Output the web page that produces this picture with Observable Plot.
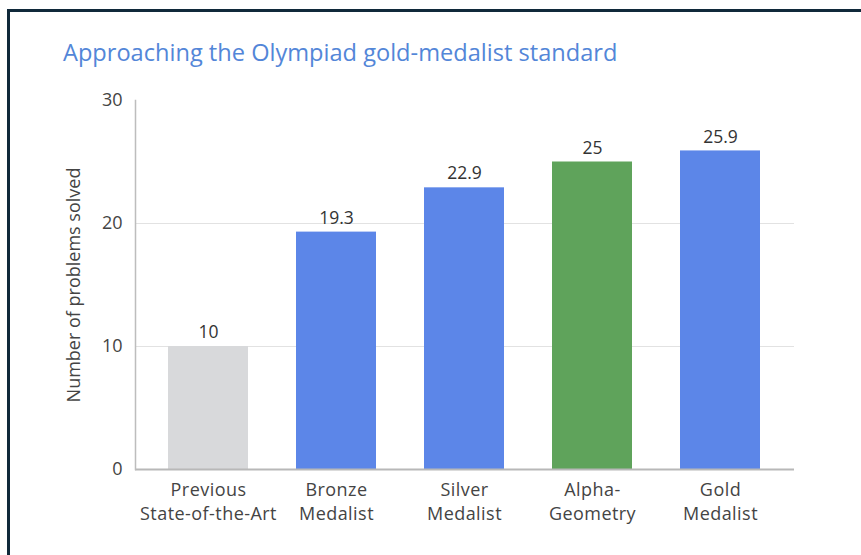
<!DOCTYPE html>
<html>
<head>
<meta charset="utf-8">
<script src="https://cdn.jsdelivr.net/npm/d3@7"></script>
<script src="https://cdn.jsdelivr.net/npm/@observablehq/plot@0.6"></script>
<style>
  html, body { margin: 0; padding: 0; background: #fff; }
  #wrap { position: relative; width: 861px; height: 555px; overflow: hidden; background: #fff; }
  #frame { position: absolute; left: 7px; top: 9px; width: 900px; height: 600px;
           border-left: 3px solid #10293a; border-top: 3px solid #10293a; box-sizing: border-box; }
  #title { position: absolute; left: 63px; top: 36px; font-family: "Open Sans", Roboto, sans-serif;
           font-size: 23.6px; color: #5386d8; white-space: nowrap; }
  #chart { position: absolute; left: 0; top: 0; }
  #chart g[aria-label="x-axis tick label"] text { letter-spacing: 0.45px; }
</style>
</head>
<body>
<div id="wrap">
  <div id="frame"></div>
  <div id="chart"></div>
  <div id="title">Approaching the Olympiad gold-medalist standard</div>
</div>
<script>
const categories = ["Previous\nState-of-the-Art", "Bronze\nMedalist", "Silver\nMedalist", "Alpha-\nGeometry", "Gold\nMedalist"];
const values = [10, 19.3, 22.9, 25, 25.9];
const groups = ["Previous", "Medalist", "Medalist", "AlphaGeometry", "Medalist"];
const yTicks = [0, 10, 20, 30];
const gridTicks = [10, 20];
const yLabel = "Number of problems solved";

const data = categories.map((c, i) => ({category: c, value: values[i], group: groups[i]}));

const chart = Plot.plot({
  width: 861,
  height: 555,
  marginLeft: 135,
  marginRight: 67,
  marginTop: 100,
  marginBottom: 86,
  style: {fontFamily: "'Open Sans', Roboto, sans-serif", fontSize: "15px", color: "#444", background: "transparent"},
  x: {domain: categories, paddingInner: 0.374, paddingOuter: 0.26, label: null},
  y: {domain: [0, 30], label: null},
  color: {domain: ["Previous", "Medalist", "AlphaGeometry"], range: ["#d8d9db", "#5c86e8", "#5fa35b"]},
  marks: [
    Plot.gridY(gridTicks, {stroke: "#e2e2e2", strokeOpacity: 1, strokeWidth: 1.2}),
    Plot.barY(data, {x: "category", y: "value", fill: "group"}),
    Plot.ruleY([0], {stroke: "#b8b8b8", strokeWidth: 2}),
    Plot.frame({anchor: "left", stroke: "#bdbdbd", strokeWidth: 1.5}),
    Plot.text(data, {x: "category", y: "value", text: d => String(d.value), dy: -14, fontSize: 17.5, fill: "#333"}),
    Plot.axisY({ticks: yTicks, tickSize: 0, tickPadding: 13, fontSize: 18, color: "#444", label: yLabel, labelAnchor: "center", labelArrow: "none", labelOffset: 68}),
    Plot.axisX({tickSize: 0, tickPadding: 9, fontSize: 18, lineHeight: 1.36, color: "#444", label: null})
  ]
});
document.getElementById("chart").appendChild(chart);
</script>
</body>
</html>
